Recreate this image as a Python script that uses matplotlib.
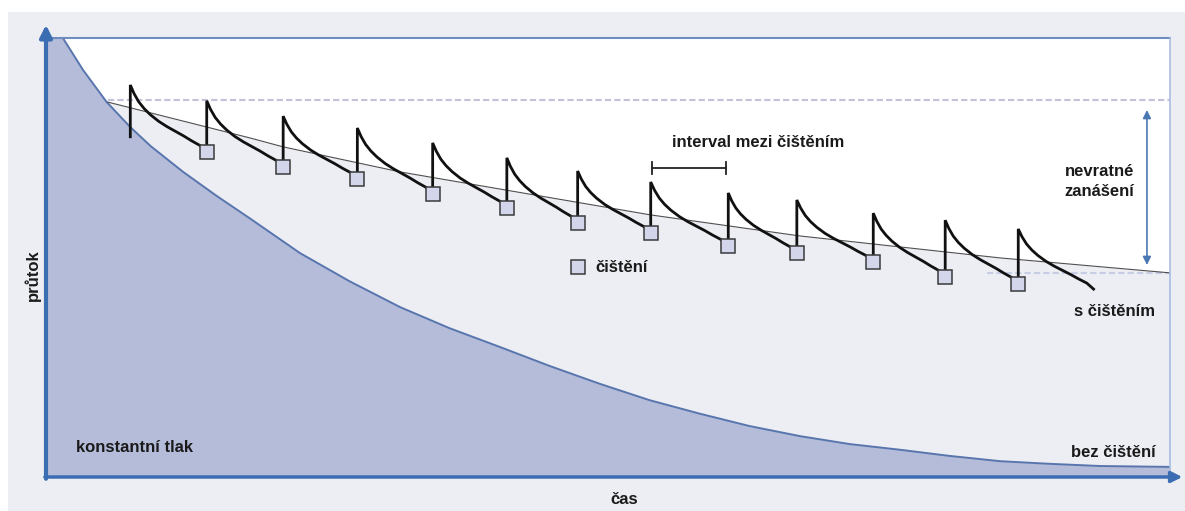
import matplotlib
matplotlib.use('Agg')
import matplotlib.pyplot as plt
import matplotlib.patches as patches

# flow without cleaning (bez čištění), time 0..100, flow 0..100
t_bez = [1.5, 3.3, 5.4, 7.5, 9.3, 12.2, 15.2, 18.2, 22.6, 27.0, 31.5, 35.9, 40.4,
         44.8, 49.3, 53.7, 58.2, 62.6, 67.1, 71.5, 76.0, 80.4, 84.9, 89.3, 93.8, 100]
q_bez = [100, 92.7, 85.4, 79.7, 75.4, 69.5, 64.0, 58.8, 51.0, 44.6, 38.7, 33.9, 29.6,
         25.3, 21.2, 17.5, 14.4, 11.6, 9.3, 7.5, 6.2, 4.8, 3.6, 3.0, 2.5, 2.3]

# with cleaning (s čištěním)
t_start = 7.5
q_start_low = 77.5
q_start_high = 89.3
t_clean = [14.3, 21.1, 27.7, 34.4, 41.0, 47.3, 53.8, 60.7, 66.8, 73.6, 80.0, 86.5]
q_before = [74.0, 70.6, 67.9, 64.5, 61.3, 57.9, 55.6, 52.6, 51.0, 49.0, 45.6, 44.0]
q_after = [85.7, 82.2, 79.5, 76.1, 72.7, 69.7, 67.2, 64.7, 63.1, 60.1, 58.5, 56.5]
t_end = 93.2
q_end = 42.8
# shape of one filtration cycle (fraction of interval / fraction of drop)
cycle_t = [0, 0.05, 0.11, 0.18, 0.26, 0.37, 0.48, 0.59, 0.70, 0.80, 0.91, 1]
cycle_q = [0, 0.13, 0.25, 0.35, 0.44, 0.54, 0.62, 0.69, 0.76, 0.83, 0.90, 1]

# trend of the flow after cleaning
t_trend = [5.5, 18.2, 21.1, 31.5, 53.8, 67.1, 84.9, 100]
q_trend = [85.4, 77.2, 75.2, 69.5, 59.7, 54.9, 49.9, 46.5]

q_initial = 85.9     # dashed level of the first recovery
q_final = 46.5       # dashed level at the end

font = 'Liberation Sans'
fs = 12
fw = 'bold'
tc = '#1a1a1a'

fig = plt.figure(figsize=(11.85, 5.11), dpi=100)
fig.patch.set_facecolor('white')
fig.add_artist(patches.Rectangle((8/1185, 0), 1, 1 - 12/511, transform=fig.transFigure,
                                 facecolor='#eceef3', edgecolor='none', zorder=0))

ax = fig.add_axes([46/1185, 34/511, 1124/1185, 439/511])
ax.set_xlim(0, 100)
ax.set_ylim(0, 100)
ax.set_facecolor('#eceef3')
for s in ax.spines.values():
    s.set_visible(False)
ax.set_xticks([])
ax.set_yticks([])

# white area above the trend
white_t = t_bez[:3] + t_trend
white_q = q_bez[:3] + q_trend
ax.fill_between(white_t, white_q, 100, color='white', lw=0, zorder=1)

# blue area under the curve without cleaning
ax.fill_between([0] + t_bez, [100] + q_bez, 0, color='#b4bcda', lw=0, zorder=2)
ax.plot(t_bez, q_bez, color='#5875ad', lw=1.4, zorder=3)

# dashed levels
ax.plot([t_trend[0], 100], [q_initial, q_initial], color='#c2c2da', lw=1.5,
        ls=(0, (3, 1.5)), zorder=2.5)
ax.plot([83.7, 100], [q_final, q_final], color='#c6cde4', lw=1.5,
        ls=(0, (3, 1.5)), zorder=2.5)

ax.plot(t_trend, q_trend, color='#505050', lw=0.8, zorder=4)

# saw-tooth curve
xs = [t_start, t_start]
ys = [q_start_low, q_start_high]
peaks_t = [t_start] + t_clean
peaks_q = [q_start_high] + q_after
ends_t = t_clean + [t_end]
ends_q = q_before + [q_end]
for i in range(len(peaks_t)):
    t0, q0 = peaks_t[i], peaks_q[i]
    t1, q1 = ends_t[i], ends_q[i]
    for ft, fq in zip(cycle_t[1:], cycle_q[1:]):
        xs.append(t0 + ft * (t1 - t0))
        ys.append(q0 - fq * (q0 - q1))
    if i < len(t_clean):
        xs += [t_clean[i]]
        ys += [q_after[i]]
ax.plot(xs, ys, color='#111111', lw=2.0, solid_joinstyle='miter', zorder=5)
ax.plot(t_clean, q_before, 's', ms=10, mfc='#d3d6ea', mec='#3a3a3a', mew=1.1, zorder=6)

# legend marker
ax.plot([47.3], [47.8], 's', ms=10, mfc='#d3d6ea', mec='#3a3a3a', mew=1.1, zorder=6)
ax.text(48.9, 47.8, 'čištění', fontsize=fs, family=font, weight=fw, color=tc,
        ha='left', va='center', zorder=7)

# interval bracket
ax.plot([53.9, 60.5], [70.4, 70.4], color='#222222', lw=1.3, zorder=6)
ax.plot([53.9, 53.9], [69.0, 71.8], color='#222222', lw=1.3, zorder=6)
ax.plot([60.5, 60.5], [69.0, 71.8], color='#222222', lw=1.3, zorder=6)
ax.text(55.7, 76.1, 'interval mezi čištěním', fontsize=fs, family=font, weight=fw,
        color=tc, ha='left', va='center', zorder=7)

# irreversible fouling arrow
ax.annotate('', xy=(97.95, 48.3), xytext=(97.95, 83.6),
            arrowprops=dict(arrowstyle='<|-|>', color='#4a78b5', lw=1.2,
                            mutation_scale=12, shrinkA=0, shrinkB=0), zorder=7)
ax.text(93.7, 67.3, 'nevratné\nzanášení', fontsize=fs, family=font, weight=fw, color=tc,
        ha='center', va='center', linespacing=1.35, zorder=7)

ax.text(98.7, 37.6, 's čištěním', fontsize=fs, family=font, weight=fw, color=tc,
        ha='right', va='center', zorder=7)
ax.text(98.7, 5.5, 'bez čištění', fontsize=fs, family=font, weight=fw, color=tc,
        ha='right', va='center', zorder=7)
ax.text(2.7, 6.8, 'konstantní tlak', fontsize=fs, family=font, weight=fw, color=tc,
        ha='left', va='center', zorder=7)

# frame and axes
ax.plot([0, 100], [100, 100], color='#6d8cc0', lw=1.5, zorder=8, clip_on=False)
ax.plot([100, 100], [0, 100], color='#a9bde0', lw=1.2, zorder=8, clip_on=False)
ax.annotate('', xy=(0, 103.0), xytext=(0, -0.4),
            arrowprops=dict(arrowstyle='-|>', color='#3b6db3', lw=3,
                            mutation_scale=18, shrinkA=0, shrinkB=0),
            annotation_clip=False, zorder=9)
ax.annotate('', xy=(101.1, 0), xytext=(-0.1, 0),
            arrowprops=dict(arrowstyle='-|>', color='#3b6db3', lw=2.5,
                            mutation_scale=16, shrinkA=0, shrinkB=0),
            annotation_clip=False, zorder=9)

fig.text(33/1185, 1 - 275/511, 'průtok', fontsize=fs, family=font, weight=fw, color=tc,
         rotation=90, ha='center', va='center')
fig.text(624/1185, 1 - 499/511, 'čas', fontsize=fs, family=font, weight=fw, color=tc,
         ha='center', va='center')

plt.savefig('out.png', dpi=100)
